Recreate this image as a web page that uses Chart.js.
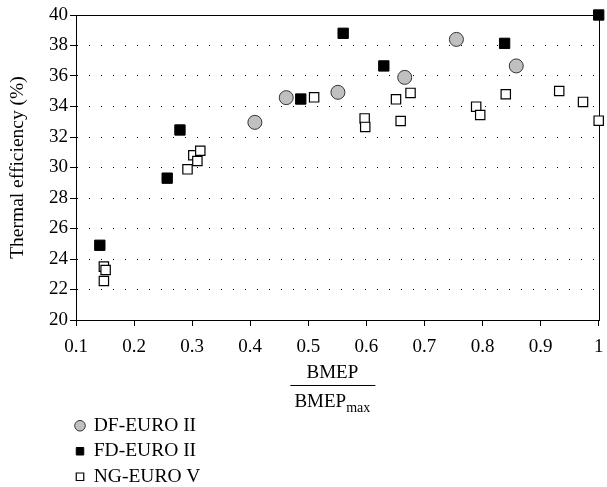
<!DOCTYPE html>
<html>
<head>
<meta charset="utf-8">
<script src="https://cdn.jsdelivr.net/npm/chart.js@4.4.0/dist/chart.umd.min.js"></script>
<style>
    body { margin: 0; background: #fff; }
</style>
</head>
<body>
<canvas id="efficiency-chart" width="607" height="487"></canvas>
<script>
// data
var dfX = [0.408, 0.462, 0.551, 0.666, 0.755, 0.858];
var dfY = [32.96, 34.58, 34.93, 35.91, 38.40, 36.66];

var fdX = [0.141, 0.257, 0.279, 0.487, 0.560, 0.630, 0.838, 1.0];
var fdY = [24.90, 29.30, 32.46, 34.49, 38.80, 36.66, 38.14, 40.0];

var ngX = [0.148, 0.151, 0.148, 0.292, 0.302, 0.309, 0.314, 0.510, 0.597, 0.598,
           0.651, 0.659, 0.676, 0.789, 0.796, 0.840, 0.932, 0.973, 1.0];
var ngY = [23.50, 23.28, 22.56, 29.88, 30.80, 30.43, 31.10, 34.60, 33.22, 32.66,
           34.47, 33.05, 34.89, 33.99, 33.44, 34.80, 35.02, 34.30, 33.07];

var xTickLabels = ['0.1', '0.2', '0.3', '0.4', '0.5', '0.6', '0.7', '0.8', '0.9', '1'];
var yTickLabels = ['20', '22', '24', '26', '28', '30', '32', '34', '36', '38', '40'];

function points(xs, ys) {
    return xs.map(function (x, i) { return { x: x, y: ys[i] }; });
}

var serif = "'Liberation Serif', 'DejaVu Serif', serif";
Chart.defaults.font.family = serif;
Chart.defaults.font.size = 19;
Chart.defaults.color = '#000';

// solid box round the plot
var framePlugin = {
    id: 'frame',
    beforeDatasetsDraw: function (chart) {
        var a = chart.chartArea, ctx = chart.ctx;
        ctx.save();
        ctx.strokeStyle = '#000';
        ctx.lineWidth = 1;
        ctx.strokeRect(Math.round(a.left) + 0.5, Math.round(a.top) + 0.5,
                       Math.round(a.right - a.left), Math.round(a.bottom - a.top));
        ctx.restore();
    }
};

// BMEP / BMEPmax fraction under the x axis
var fractionPlugin = {
    id: 'fraction',
    afterDraw: function (chart) {
        var a = chart.chartArea, ctx = chart.ctx;
        var cx = (a.left + a.right) / 2 - 5;
        ctx.save();
        ctx.fillStyle = '#000';
        ctx.textBaseline = 'middle';
        ctx.textAlign = 'center';
        ctx.font = '19px ' + serif;
        ctx.fillText('BMEP', cx, a.bottom + 53);
        ctx.fillRect(cx - 42, a.bottom + 65, 85, 1);
        var main = 'BMEP', sub = 'max';
        var w1 = ctx.measureText(main).width;
        ctx.font = '14px ' + serif;
        var w2 = ctx.measureText(sub).width;
        var x0 = cx - (w1 + w2) / 2;
        ctx.textAlign = 'left';
        ctx.font = '19px ' + serif;
        ctx.fillText(main, x0, a.bottom + 82);
        ctx.font = '14px ' + serif;
        ctx.fillText(sub, x0 + w1, a.bottom + 88);
        ctx.restore();
    }
};

// legend: one entry per row, flush with the y axis
var legendRows = {
    id: 'legendRows',
    beforeLayout: function (chart) {
        var lg = chart.legend;
        if (lg && !lg._narrow) {
            var fit = lg.fit;
            lg.fit = function () {
                this.maxWidth = Math.min(this.maxWidth, 150);
                fit.call(this);
            };
            lg._narrow = true;
        }
    },
    afterLayout: function (chart) {
        chart.legend.left -= 6;
        chart.legend.right = chart.legend.left + 150;
    }
};

new Chart(document.getElementById('efficiency-chart'), {
    type: 'scatter',
    data: {
        datasets: [
            {
                label: 'DF-EURO II',
                data: points(dfX, dfY),
                pointStyle: 'circle',
                pointRadius: 7,
                backgroundColor: '#c0c0c0',
                borderColor: '#333',
                borderWidth: 1,
                clip: false
            },
            {
                label: 'FD-EURO II',
                data: points(fdX, fdY),
                pointStyle: 'rect',
                pointRadius: 7.3,
                backgroundColor: '#000',
                borderColor: '#000',
                borderWidth: 1,
                clip: false
            },
            {
                label: 'NG-EURO V',
                data: points(ngX, ngY),
                pointStyle: 'rect',
                pointRadius: 6.6,
                backgroundColor: '#fff',
                borderColor: '#000',
                borderWidth: 1.2,
                clip: false
            }
        ]
    },
    options: {
        responsive: false,
        animation: false,
        layout: { padding: { top: 15, right: 1, left: 0, bottom: 0 } },
        plugins: {
            tooltip: { enabled: false },
            legend: {
                position: 'bottom',
                align: 'start',
                fullSize: false,
                maxHeight: 77,
                labels: {
                    usePointStyle: true,
                    boxWidth: 8,
                    boxHeight: 7.5,
                    padding: 6,
                    color: '#000',
                    font: { size: 19.5 }
                }
            }
        },
        scales: {
            x: {
                type: 'linear',
                min: 0.1,
                max: 1.0,
                afterFit: function (s) { s.paddingRight = 0; s.height = 90; },
                ticks: {
                    stepSize: 0.1,
                    padding: 10,
                    callback: function (v, i) { return xTickLabels[i]; }
                },
                grid: {
                    drawOnChartArea: false,
                    tickLength: 6,
                    tickColor: '#000'
                },
                border: { color: '#000', width: 1 }
            },
            y: {
                min: 20,
                max: 40,
                afterFit: function (s) { s.width = 76; },
                ticks: {
                    stepSize: 2,
                    padding: 2,
                    callback: function (v, i) { return yTickLabels[i]; }
                },
                grid: {
                    tickLength: 6,
                    tickColor: '#000',
                    color: function (c) {
                        var v = c.tick && c.tick.value;
                        return (v === 20 || v === 40) ? 'rgba(0,0,0,0)' : '#000';
                    }
                },
                border: { color: '#000', width: 1, dash: [1, 11] },
                title: {
                    display: true,
                    text: 'Thermal efficiency (%)',
                    font: { size: 19.5 },
                    padding: { top: 6, bottom: 0 }
                }
            }
        }
    },
    plugins: [framePlugin, fractionPlugin, legendRows]
});
</script>
</body>
</html>
